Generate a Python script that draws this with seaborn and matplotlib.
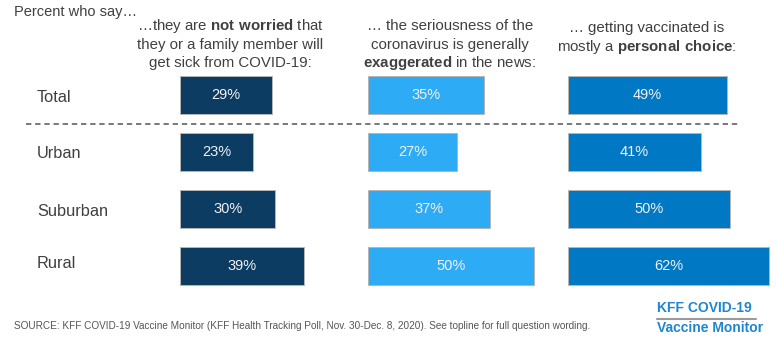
import matplotlib
matplotlib.use("Agg")
import matplotlib.pyplot as plt
import seaborn as sns
from matplotlib.lines import Line2D

# data
groups = ["Total", "Urban", "Suburban", "Rural"]
not_worried = [29, 23, 30, 39]
exaggerated = [35, 27, 37, 50]
personal_choice = [49, 41, 50, 62]

headers = [
    ["…they are $\\mathbf{not\\ worried}$ that",
     "they or a family member will",
     "get sick from COVID-19:"],
    ["… the seriousness of the",
     "coronavirus is generally",
     "$\\mathbf{exaggerated}$ in the news:"],
    ["… getting vaccinated is",
     "mostly a $\\mathbf{personal\\ choice}$:"],
]
colors = ["#0c3c61", "#2eabf5", "#0078c4"]
source = ("SOURCE: KFF COVID-19 Vaccine Monitor (KFF Health Tracking Poll, Nov. 30-Dec. 8, 2020). "
          "See topline for full question wording.")

sns.set_theme(style="white")
plt.rcParams["font.family"] = ["Liberation Sans", "DejaVu Sans"]
plt.rcParams["mathtext.fontset"] = "custom"
plt.rcParams["mathtext.rm"] = "Liberation Sans"
plt.rcParams["mathtext.bf"] = "Liberation Sans:bold"

W, H = 777, 350
fig = plt.figure(figsize=(W / 100, H / 100), dpi=100)

TXT = "#404040"

def fx(px):
    return px / W

def fy(py):
    return 1 - py / H

# (left px, width px, px per percent)
panels = [(180, 150, 3.18), (368, 185, 3.31), (568, 205, 3.24)]
series = [not_worried, exaggerated, personal_choice]

ax_bottom = fy(294.5)
ax_height = 228 / H

for (left, width, scale), vals, col in zip(panels, series, colors):
    ax = fig.add_axes([fx(left), ax_bottom, fx(width), ax_height])
    sns.barplot(x=vals, y=groups, ax=ax, color=col, orient="h",
                width=0.667, edgecolor="#b5b5b5", linewidth=0.7, saturation=1)
    ax.set_xlim(0, width / scale)
    ax.set_ylim(3.5, -0.5)
    ax.axis("off")
    for i, v in enumerate(vals):
        ax.text(v / 2, i, f"{v}%", ha="center", va="center",
                color="#f2f2f2", fontsize=10.5)

# row labels
for lab, py in zip(groups, [97, 153, 211, 264]):
    fig.text(fx(37), fy(py), lab, ha="left", va="center", fontsize=11.8, color=TXT)

# headers
fig.text(fx(14), fy(12), "Percent who say…", ha="left", va="center",
         fontsize=10.5, color=TXT)
header_x = [230, 450, 647]
header_y = [[26, 45, 63], [26, 45, 63], [28, 47]]
for lines, cx, ys in zip(headers, header_x, header_y):
    for line, py in zip(lines, ys):
        fig.text(fx(cx), fy(py), line, ha="center", va="center",
                 fontsize=10.8, color=TXT)

# dashed separator
fig.add_artist(Line2D([fx(26), fx(740)], [fy(124), fy(124)],
                      transform=fig.transFigure, color="#555555",
                      linewidth=1.1, linestyle=(0, (3.5, 2.5))))

# source note
fig.text(fx(14), fy(326), source, ha="left", va="center", fontsize=7.2,
         color="#555555")

# logo
logo_col = "#1f86cf"
fig.text(fx(657), fy(308), "KFF COVID-19", ha="left", va="center",
         fontsize=10, fontweight="bold", color=logo_col)
fig.add_artist(Line2D([fx(657), fx(756)], [fy(318.5), fy(318.5)],
                      transform=fig.transFigure, color="#9a9a9a", linewidth=1.5))
fig.text(fx(657), fy(328.5), "Vaccine Monitor", ha="left", va="center",
         fontsize=10, fontweight="bold", color=logo_col)

fig.savefig("out.png", dpi=100, facecolor="white")
